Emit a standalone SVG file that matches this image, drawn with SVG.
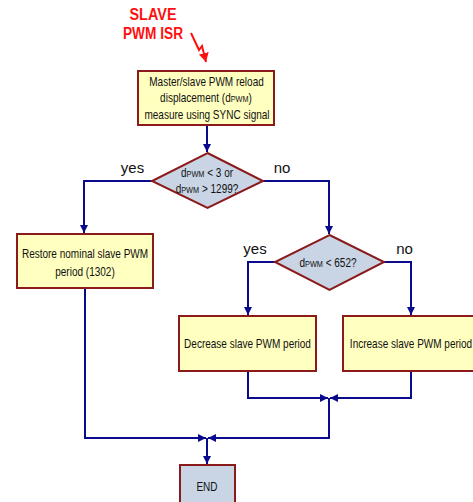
<svg xmlns="http://www.w3.org/2000/svg" width="473" height="502" viewBox="0 0 473 502">
<style>
.box{fill:#FFFFC0;stroke:#8B1A1A;stroke-width:2}
.dia{fill:#C9D5E5;stroke:#8B1A1A;stroke-width:2}
.t{font-family:"Liberation Sans",Arial,sans-serif;font-size:13px;fill:#111;text-anchor:middle}
.lbl{font-family:"Liberation Sans",Arial,sans-serif;font-size:15px;fill:#111;text-anchor:middle}
.title{font-family:"Liberation Sans",Arial,sans-serif;font-size:16px;font-weight:bold;fill:#FF1010;text-anchor:middle}
.sc{font-size:9.5px}
.c{fill:none;stroke:#0A0A8C;stroke-width:2}
</style>
<defs>
<marker id="ah" markerUnits="userSpaceOnUse" markerWidth="10" markerHeight="10" refX="8" refY="4" orient="auto">
<path d="M0,0 L8,4 L0,8 Z" fill="#0A0A8C"/>
</marker>
<marker id="rh" markerUnits="userSpaceOnUse" markerWidth="12" markerHeight="12" refX="9" refY="5" orient="auto">
<path d="M0,0 L9,5 L0,10 Z" fill="#FF1010"/>
</marker>
</defs>

<g id="title">
<text class="title" x="153" y="20" textLength="47" lengthAdjust="spacingAndGlyphs">SLAVE</text>
<text class="title" x="153" y="39" textLength="60" lengthAdjust="spacingAndGlyphs">PWM ISR</text>
<path d="M191,33 L199,50 L202,46 L206,62" fill="none" stroke="#FF1010" stroke-width="2" marker-end="url(#rh)"/>
</g>

<g id="connectors">
<path class="c" d="M207,125 L207,152" marker-end="url(#ah)"/>
<path class="c" d="M152,181 L84,181 L84,233" marker-end="url(#ah)"/>
<path class="c" d="M263,181 L329,181 L329,234" marker-end="url(#ah)"/>
<path class="c" d="M275,262 L248,262 L248,315" marker-end="url(#ah)"/>
<path class="c" d="M384,262 L411,262 L411,315" marker-end="url(#ah)"/>
<path class="c" d="M248,371 L248,398 L328,398" marker-end="url(#ah)"/>
<path class="c" d="M411,371 L411,398 L330,398" marker-end="url(#ah)"/>
<path class="c" d="M329,398 L329,438 L208,438" marker-end="url(#ah)"/>
<path class="c" d="M85,288 L85,438 L206,438" marker-end="url(#ah)"/>
<path class="c" d="M207,438 L207,464" marker-end="url(#ah)"/>
</g>

<g id="measure">
<rect class="box" x="138" y="71" width="136" height="54"/>
<text class="t" transform="translate(206.5,86) scale(0.77,1)">Master/slave PWM reload</text>
<text class="t" transform="translate(206,102) scale(0.77,1)">displacement (d<tspan class="sc">PWM</tspan>)</text>
<text class="t" transform="translate(207,119) scale(0.77,1)">measure using SYNC signal</text>
</g>

<g id="decision1">
<polygon class="dia" points="207.5,153 263,181 207.5,208 152,181"/>
<text class="t" transform="translate(207,177) scale(0.77,1)">d<tspan class="sc">PWM</tspan> &lt; 3 or</text>
<text class="t" transform="translate(207,193) scale(0.77,1)">d<tspan class="sc">PWM</tspan> &gt; 1299?</text>
<text class="lbl" x="132.5" y="173">yes</text>
<text class="lbl" x="282" y="173">no</text>
</g>

<g id="restore">
<rect class="box" x="17" y="234" width="136" height="54"/>
<text class="t" transform="translate(85,258) scale(0.77,1)">Restore nominal slave PWM</text>
<text class="t" transform="translate(85,276) scale(0.77,1)">period (1302)</text>
</g>

<g id="decision2">
<polygon class="dia" points="329.5,235 384,262 329.5,290 275,262"/>
<text class="t" transform="translate(328,267) scale(0.77,1)">d<tspan class="sc">PWM</tspan> &lt; 652?</text>
<text class="lbl" x="255" y="254">yes</text>
<text class="lbl" x="404.5" y="254">no</text>
</g>

<g id="decrease">
<rect class="box" x="179" y="316" width="137" height="55"/>
<text class="t" transform="translate(247.5,348) scale(0.77,1)">Decrease slave PWM period</text>
</g>

<g id="increase">
<rect class="box" x="343" y="316" width="137" height="55"/>
<text class="t" transform="translate(411,348) scale(0.77,1)">Increase slave PWM period</text>
</g>

<g id="end">
<rect class="dia" x="180" y="465" width="55" height="45"/>
<text class="t" transform="translate(207,491) scale(0.77,1)">END</text>
</g>
</svg>
